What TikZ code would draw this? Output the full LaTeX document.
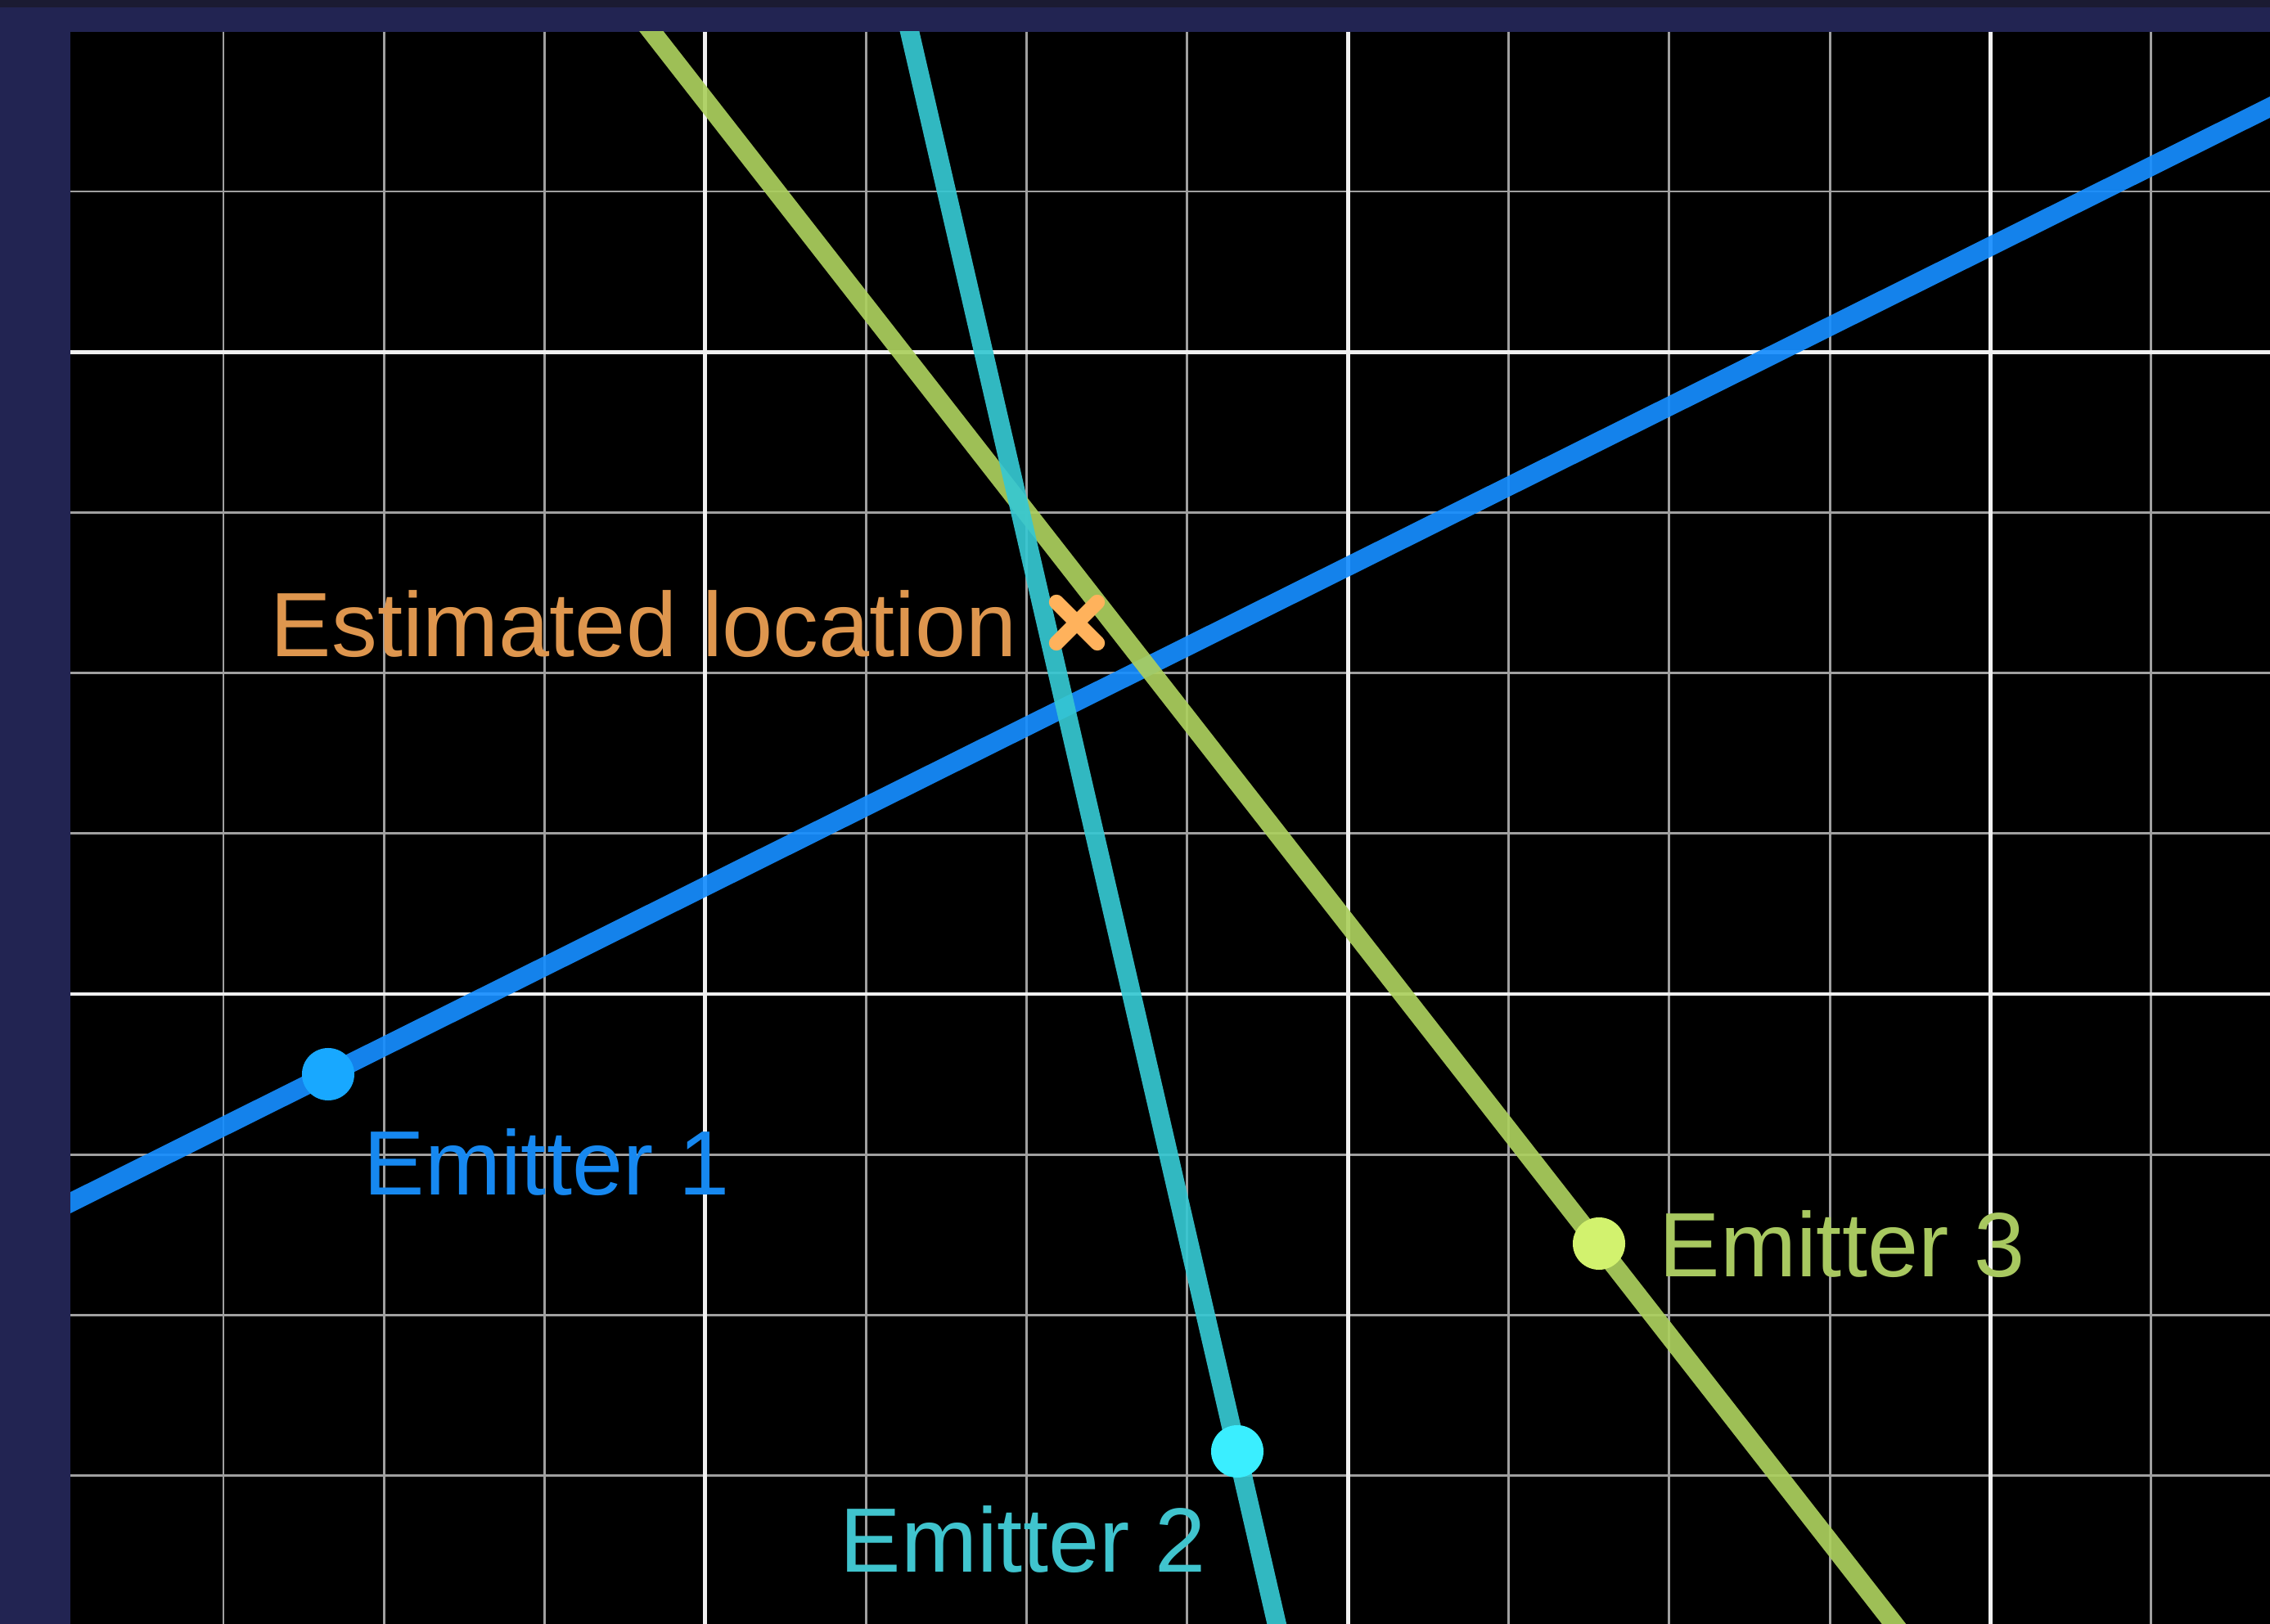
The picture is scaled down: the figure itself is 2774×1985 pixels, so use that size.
\documentclass[tikz,border=0pt]{standalone}
\usepackage{fontspec}
\setmainfont{Liberation Sans}
\definecolor{navy}{RGB}{34,36,82}
\definecolor{topdark}{RGB}{27,27,50}
\definecolor{gridminor}{RGB}{160,160,160}
\definecolor{gridmajor}{RGB}{240,240,240}
\definecolor{blueline}{RGB}{22,142,255}
\definecolor{bluedot}{RGB}{24,168,255}
\definecolor{bluetext}{RGB}{22,136,240}
\definecolor{tealline}{RGB}{54,200,210}
\definecolor{tealdot}{RGB}{58,238,255}
\definecolor{tealtext}{RGB}{64,196,206}
\definecolor{yelline}{RGB}{172,208,94}
\definecolor{yeldot}{RGB}{210,242,110}
\definecolor{yeltext}{RGB}{168,200,96}
\definecolor{esttext}{RGB}{222,150,78}
\definecolor{estmark}{RGB}{255,178,92}
\tikzset{
  minorgrid/.style={draw=gridminor, line width=0.85pt},
  majorgrid/.style={draw=gridmajor, line width=1.4pt},
  bearing/.style={line width=6.6pt, opacity=0.92},
  emitdot/.style={circle, inner sep=0pt, minimum size=0.64cm},
  lbl/.style={inner sep=0pt, anchor=base west, font=\fontsize{31.75pt}{38pt}\selectfont},
  xmark/.style={draw=estmark, line width=5.2pt, line cap=round}
}
\begin{document}
\begin{tikzpicture}[x=0.01cm, y=-0.01cm]
\useasboundingbox (0,0) rectangle (2774,1985);
\fill[navy] (0,0) rectangle (2774,1985);
\fill[topdark] (0,0) rectangle (2774,9);
\fill[black] (86,39) rectangle (2774,1985);
\begin{scope}
  \clip (86,39) rectangle (2774,1985);
  % minor grid
  \foreach \i in {0,...,12} {
    \draw[minorgrid] ({273+196.3*\i},39) -- ({273+196.3*\i},1985);
  }
  \foreach \j in {0,...,8} {
    \draw[minorgrid] (86,{234+196.2*\j}) -- (2774,{234+196.2*\j});
  }
  % major grid
  \foreach \i in {3,7,11} {
    \draw[majorgrid] ({273+196.3*\i},39) -- ({273+196.3*\i},1985);
  }
  \foreach \j in {1,5} {
    \draw[majorgrid] (86,{234+196.2*\j}) -- (2774,{234+196.2*\j});
  }
  % bearing lines
  \coordinate (l1a) at (60,1483);
  \coordinate (l1b) at (2800,118);
  \coordinate (l2a) at (1105,10);
  \coordinate (l2b) at (1566,2010);
  \coordinate (l3a) at (774,10);
  \coordinate (l3b) at (2334,2010);
  \draw[bearing, draw=blueline] (l1a) -- (l1b);
  \draw[bearing, draw=yelline] (l3a) -- (l3b);
  \draw[bearing, draw=tealline] (l2a) -- (l2b);
\end{scope}
% emitters
\node[emitdot, fill=bluedot] (e1) at (401,1313) {};
\node[emitdot, fill=tealdot] (e2) at (1512,1774) {};
\node[emitdot, fill=yeldot] (e3) at (1954,1520) {};
\node[lbl, text=bluetext] (t1) at (444,1460) {Emitter 1};
\node[lbl, text=tealtext] (t2) at (1026,1921) {Emitter 2};
\node[lbl, text=yeltext] (t3) at (2027,1560) {Emitter 3};
% estimated location
\coordinate (est) at (1316,761);
\draw[xmark] (est) ++(-25,-25) -- ++(50,50);
\draw[xmark] (est) ++(-25,25) -- ++(50,-50);
\node[lbl, text=esttext] (tl) at (330,802) {Estimated location};
\end{tikzpicture}
\end{document}
